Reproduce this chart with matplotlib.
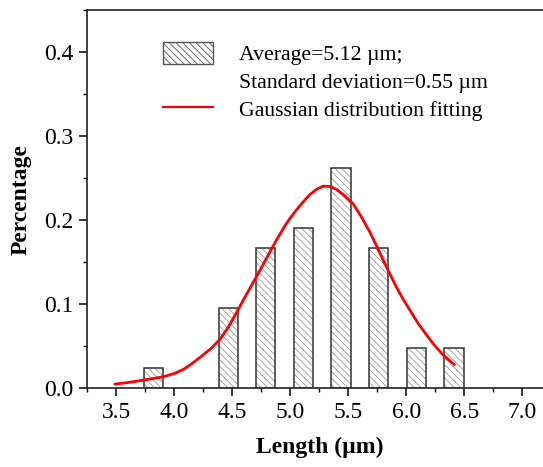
import numpy as np
import matplotlib
matplotlib.use('Agg')
import matplotlib.pyplot as plt
from matplotlib.ticker import MultipleLocator, FormatStrFormatter
from matplotlib.patches import Patch
from matplotlib.lines import Line2D

plt.rcParams['font.family'] = ['Liberation Serif', 'DejaVu Serif']
plt.rcParams['hatch.linewidth'] = 0.6

# данные гистограммы (доля частиц в каждом интервале)
bin_centers = [3.82, 4.465, 4.79, 5.115, 5.437, 5.76, 6.085, 6.41]
fractions = [1/42, 4/42, 7/42, 8/42, 11/42, 7/42, 2/42, 2/42]
bar_width = 0.165

# точки кривой Гаусса
fit_x = [3.49, 3.6, 3.74, 3.91, 4.0, 4.08, 4.15, 4.225, 4.311, 4.397,
         4.47, 4.554, 4.60, 4.655, 4.712, 4.77, 4.826, 4.87, 4.912, 4.96,
         5.0, 5.055, 5.11, 5.17, 5.23, 5.284, 5.34, 5.399, 5.47, 5.541,
         5.61, 5.685, 5.74, 5.799, 5.86, 5.914, 5.97, 6.028, 6.10, 6.171,
         6.24, 6.314, 6.36, 6.414]
fit_y = [0.005, 0.0068, 0.0098, 0.0138, 0.0175, 0.0225, 0.029, 0.037,
         0.0465, 0.0585, 0.0735, 0.094, 0.106, 0.1195, 0.1335, 0.148,
         0.1625, 0.1735, 0.1835, 0.1945, 0.2025, 0.2125, 0.2215, 0.2305,
         0.237, 0.2405, 0.240, 0.2365, 0.229, 0.2195, 0.2045, 0.186,
         0.1705, 0.153, 0.1355, 0.1205, 0.1065, 0.0935, 0.0775, 0.064,
         0.0515, 0.040, 0.0345, 0.028]

fig = plt.figure(figsize=(5.43, 4.67), dpi=100)
W, H = 543, 467
ax = fig.add_axes([87 / W, 1 - 388.3 / H, (551.5 - 87) / W, (388.3 - 10) / H])

# штриховка и контур рисуем отдельно
ax.bar(bin_centers, fractions, width=bar_width, color='white',
       edgecolor='#9a9a9a', hatch='\\' * 5, linewidth=0, zorder=2)
ax.bar(bin_centers, fractions, width=bar_width, fill=False,
       edgecolor='#333333', linewidth=1.1, zorder=3)
ax.plot(fit_x, fit_y, color='red', linewidth=2, zorder=4,
        solid_joinstyle='round', solid_capstyle='round')

ax.set_xlim(3.25, 7.25)
ax.set_ylim(0, 0.45)
ax.xaxis.set_major_locator(MultipleLocator(0.5))
ax.xaxis.set_minor_locator(MultipleLocator(0.25))
ax.yaxis.set_major_locator(MultipleLocator(0.1))
ax.yaxis.set_minor_locator(MultipleLocator(0.05))
ax.xaxis.set_major_formatter(FormatStrFormatter('%.1f'))
ax.yaxis.set_major_formatter(FormatStrFormatter('%.1f'))
ax.tick_params(which='major', direction='out', length=6, width=1.1,
               labelsize=17, pad=4)
ax.tick_params(which='minor', direction='out', length=3, width=1.0)
ax.tick_params(top=False, right=False)
for s in ax.spines.values():
    s.set_linewidth(1.2)
    s.set_color('#222222')

ax.set_xlabel('Length (µm)', fontsize=17, fontweight='bold', labelpad=10)
ax.set_ylabel('Percentage', fontsize=17, fontweight='bold', labelpad=9)

# легенда
bar_handle = Patch(facecolor='white', edgecolor='#555555', hatch='\\' * 5,
                   linewidth=1.0)
empty_handle = Line2D([], [], linestyle='none')
line_handle = Line2D([], [], color='red', linewidth=1.6)
fig.legend([bar_handle, empty_handle, line_handle],
           ['Average=5.12 µm;', 'Standard deviation=0.55 µm',
            'Gaussian distribution fitting'],
           loc='upper left', bbox_to_anchor=(163 / W, 1 - 42 / H),
           frameon=False, fontsize=15.7, handlelength=2.3, handleheight=1.15,
           handletextpad=1.2, borderpad=0, borderaxespad=0, labelspacing=0.22)

fig.savefig('out.png', dpi=100)
